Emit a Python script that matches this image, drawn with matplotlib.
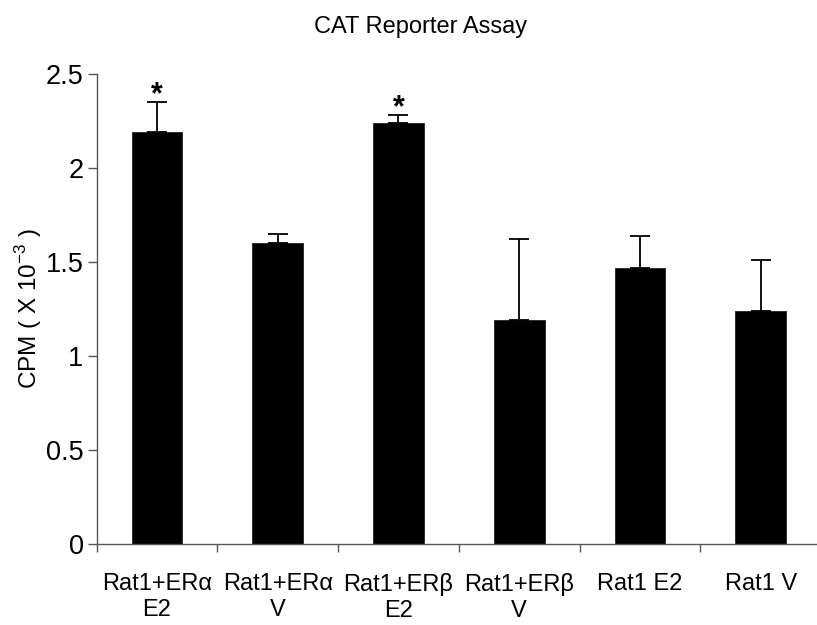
import matplotlib
matplotlib.use("Agg")
import matplotlib.pyplot as plt
import numpy as np

plt.rcParams['font.family'] = ['Liberation Sans', 'DejaVu Sans']

categories = ["Rat1+ERα\nE2", "Rat1+ERα\nV", "Rat1+ERβ\nE2", "Rat1+ERβ\nV", "Rat1 E2", "Rat1 V"]
values = [2.19, 1.60, 2.24, 1.19, 1.47, 1.24]
errors = [0.16, 0.05, 0.04, 0.43, 0.17, 0.27]
significant = [True, False, True, False, False, False]

fig = plt.figure(figsize=(8.17, 6.25), dpi=100)
ax = fig.add_axes([96.7/817, 81/625, (821-96.7)/817, 470/625])

x = np.arange(len(categories))
ax.bar(x, values, width=0.42, color='black', edgecolor='#222222', linewidth=0.6, zorder=2)
ax.errorbar(x, values, yerr=[np.zeros(len(values)), errors], fmt='none',
            ecolor='black', elinewidth=1.3, capsize=7.5, capthick=1.3, zorder=3)

for xi, v, e, s in zip(x, values, errors, significant):
    if s:
        ax.annotate('*', xy=(xi, v + e), xytext=(0, -6), textcoords='offset points',
                    ha='center', va='bottom', fontsize=22, fontweight='bold')

ax.set_xlim(-0.5, len(categories) - 0.5)
ax.set_ylim(0, 2.5)
ax.set_yticks([0, 0.5, 1, 1.5, 2, 2.5])
ax.set_yticklabels(['0', '0.5', '1', '1.5', '2', '2.5'])

ax.set_xticks(np.arange(-0.5, len(categories) + 0.5, 1.0))
ax.set_xticklabels([])
ax.set_xticks(x, minor=True)
ax.set_xticklabels(categories, minor=True, fontsize=17, linespacing=1.25)
ax.tick_params(axis='x', which='major', direction='out', length=6, width=1, color='#555555')
ax.tick_params(axis='x', which='minor', length=0, pad=21)
ax.tick_params(axis='y', direction='out', length=6.5, width=1, color='#555555', labelsize=19.5, pad=3)

for side in ['top', 'right']:
    ax.spines[side].set_visible(False)
for side in ['left', 'bottom']:
    ax.spines[side].set_color('#555555')
    ax.spines[side].set_linewidth(1)

ax.set_ylabel(r'CPM ( X 10$^{\mathregular{-3}}$ )', fontsize=17.5)
ax.yaxis.set_label_coords(-0.073, 0.5)
fig.text(421/817, 1 - 27/625, 'CAT Reporter Assay', ha='center', va='center', fontsize=17)

fig.savefig('out.png', dpi=100)
